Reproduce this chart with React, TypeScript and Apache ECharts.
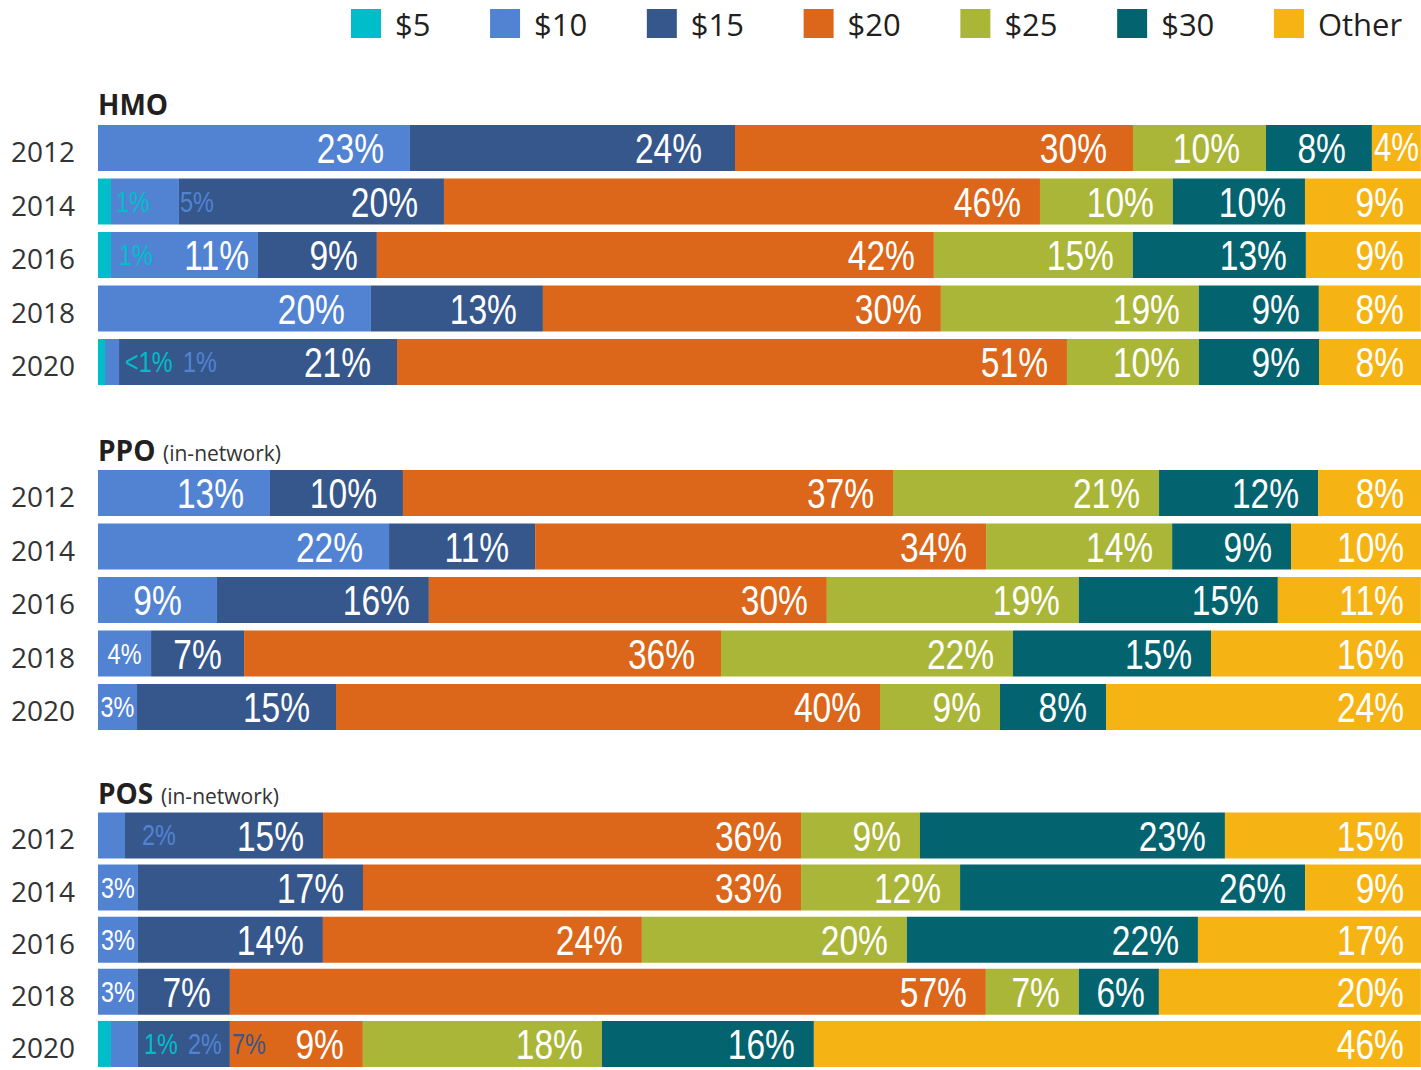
import React, { useEffect, useRef } from "react";
import * as echarts from "echarts";

const years = ["2012", "2014", "2016", "2018", "2020"];
const seriesNames = ["$5", "$10", "$15", "$20", "$25", "$30", "Other"];
const seriesColors = ["#00BEC9", "#5283D3", "#36578B", "#DC6619", "#A9B637", "#03646F", "#F5B413"];
const groupTitles = ["HMO", "PPO", "POS"];
const groupSubtitles = ["", "(in-network)", "(in-network)"];

// Shares (%) per series (rows: $5 ... Other), columns follow years
const hmoValues = [
  [0, 0.98, 0.98, 0, 0.53],
  [23.58, 5.14, 11.11, 20.63, 1.06],
  [24.57, 20.03, 8.99, 13.0, 21.01],
  [30.08, 45.05, 42.1, 30.08, 50.64],
  [10.05, 10.05, 15.04, 19.5, 9.98],
  [8.01, 9.98, 13.08, 9.07, 9.07],
  [3.7, 8.77, 8.69, 7.71, 7.71],
];
const hmoLabels = [
  ["", "1%", "1%", "", "<1%"],
  ["23%", "5%", "11%", "20%", "1%"],
  ["24%", "20%", "9%", "13%", "21%"],
  ["30%", "46%", "42%", "30%", "51%"],
  ["10%", "10%", "15%", "19%", "10%"],
  ["8%", "10%", "13%", "9%", "9%"],
  ["4%", "9%", "9%", "8%", "8%"],
];

const ppoValues = [
  [0, 0, 0, 0, 0],
  [13.0, 22.0, 8.99, 4.01, 2.95],
  [10.05, 11.04, 16.02, 7.03, 15.04],
  [37.04, 34.09, 30.08, 36.05, 41.12],
  [20.11, 14.06, 19.05, 22.07, 9.07],
  [12.02, 8.99, 15.04, 14.97, 8.01],
  [7.79, 9.83, 10.81, 15.87, 23.81],
];
const ppoLabels = [
  ["", "", "", "", ""],
  ["13%", "22%", "9%", "4%", "3%"],
  ["10%", "11%", "16%", "7%", "15%"],
  ["37%", "34%", "30%", "36%", "40%"],
  ["21%", "14%", "19%", "22%", "9%"],
  ["12%", "9%", "15%", "15%", "8%"],
  ["8%", "10%", "11%", "16%", "24%"],
];

const posValues = [
  [0, 0, 0, 0, 0.98],
  [2.04, 3.02, 3.02, 3.02, 2.04],
  [14.97, 17.01, 13.98, 6.95, 6.95],
  [36.13, 33.11, 24.11, 57.14, 10.05],
  [8.99, 12.02, 20.03, 7.03, 18.07],
  [23.05, 26.08, 22.0, 6.05, 16.02],
  [14.81, 8.77, 16.86, 19.8, 45.88],
];
const posLabels = [
  ["", "", "", "", "1%"],
  ["2%", "3%", "3%", "3%", "2%"],
  ["15%", "17%", "14%", "7%", "7%"],
  ["36%", "33%", "24%", "57%", "9%"],
  ["9%", "12%", "20%", "7%", "18%"],
  ["23%", "26%", "22%", "6%", "16%"],
  ["15%", "9%", "17%", "20%", "46%"],
];

const groupValues = [hmoValues, ppoValues, posValues];
const groupLabels = [hmoLabels, ppoLabels, posLabels];

// ---- layout / styling (not data) ----
const LABEL_FONT = "'Liberation Sans', Arial, sans-serif";
const SANS = "'Open Sans', 'Noto Sans', sans-serif";
const NARROW_SCALE = 0.78;
const gridTops = [121.25, 466.25, 809.4];
const gridHeights = [267.5, 267.5, 266.25];
const titleY = [105, 451, 794];
const GRID_LEFT = 98;

type LabelMode =
  | { mode: "right"; d: number }
  | { mode: "left"; d: number; size: number }
  | { mode: "mid"; size: number }
  | { mode: "out"; dx: number };

const labelLayout: Record<string, LabelMode> = {
  "0-0-1": { mode: "right", d: 26 },
  "0-0-2": { mode: "right", d: 33 },
  "0-0-3": { mode: "right", d: 26 },
  "0-0-4": { mode: "right", d: 26 },
  "0-0-5": { mode: "right", d: 26 },
  "0-0-6": { mode: "left", d: 2, size: 40 },
  "0-1-0": { mode: "out", dx: 5 },
  "0-1-1": { mode: "out", dx: 1 },
  "0-1-2": { mode: "right", d: 26 },
  "0-2-0": { mode: "out", dx: 8 },
  "0-2-1": { mode: "right", d: 9 },
  "0-3-1": { mode: "right", d: 26 },
  "0-3-2": { mode: "right", d: 26 },
  "0-4-0": { mode: "out", dx: 20 },
  "0-4-1": { mode: "out", dx: 64 },
  "0-4-2": { mode: "right", d: 26 },
  "1-0-1": { mode: "right", d: 26 },
  "1-0-2": { mode: "right", d: 26 },
  "1-1-1": { mode: "right", d: 26 },
  "1-1-2": { mode: "right", d: 26 },
  "1-2-1": { mode: "mid", size: 43 },
  "1-3-1": { mode: "mid", size: 30 },
  "1-3-2": { mode: "mid", size: 43 },
  "1-3-3": { mode: "right", d: 26 },
  "1-4-1": { mode: "mid", size: 30 },
  "1-4-2": { mode: "right", d: 26 },
  "2-0-1": { mode: "out", dx: 17 },
  "2-1-1": { mode: "mid", size: 30 },
  "2-2-1": { mode: "mid", size: 30 },
  "2-3-1": { mode: "mid", size: 30 },
  "2-3-5": { mode: "right", d: 14 },
  "2-4-0": { mode: "out", dx: 33 },
  "2-4-1": { mode: "out", dx: 50 },
  "2-4-2": { mode: "out", dx: 2 },
};

function buildLabelItems(g: number) {
  const items: any[] = [];
  const vals = groupValues[g];
  const labs = groupLabels[g];
  for (let r = 0; r < years.length; r++) {
    let acc = 0;
    for (let s = 0; s < seriesNames.length; s++) {
      const v = vals[s][r];
      const start = acc;
      acc += v;
      const text = labs[s][r];
      if (!text) continue;
      items.push({ value: [start, acc, r, s], text, key: `${g}-${r}-${s}` });
    }
  }
  return items;
}

function buildOption() {
  const grids: any[] = [];
  const xAxes: any[] = [];
  const yAxes: any[] = [];
  const series: any[] = [];
  const graphics: any[] = [];

  for (let g = 0; g < 3; g++) {
    grids.push({ left: GRID_LEFT, width: 1323, top: gridTops[g], height: gridHeights[g] });
    xAxes.push({ type: "value", gridIndex: g, min: 0, max: 100, show: false });
    yAxes.push({
      type: "category",
      gridIndex: g,
      data: years,
      inverse: true,
      axisLine: { show: false },
      axisTick: { show: false },
      splitLine: { show: false },
      axisLabel: {
        color: "#333333",
        fontFamily: SANS,
        fontSize: 28,
        margin: 23,
        verticalAlign: "top",
        lineHeight: 6,
      },
    });
    for (let s = 0; s < seriesNames.length; s++) {
      series.push({
        type: "bar",
        name: seriesNames[s],
        xAxisIndex: g,
        yAxisIndex: g,
        stack: "g" + g,
        barWidth: 46,
        itemStyle: { color: seriesColors[s] },
        emphasis: { disabled: true },
        label: { show: false },
        data: groupValues[g][s],
      });
    }

    const items = buildLabelItems(g);
    series.push({
      type: "custom",
      name: "labels" + g,
      xAxisIndex: g,
      yAxisIndex: g,
      z: 10,
      silent: true,
      encode: { x: [0, 1], y: 2 },
      data: items.map((it) => it.value),
      renderItem: (params: any, api: any) => {
        const it = items[params.dataIndex];
        const start = api.value(0);
        const end = api.value(1);
        const r = api.value(2);
        const s = api.value(3);
        const p0 = api.coord([start, r]);
        const p1 = api.coord([end, r]);
        const y = p1[1];
        const o = labelLayout[it.key];
        let x = p1[0] - (s === 6 ? 17 : 19);
        let align = "right";
        let size = 43;
        let fill = "#ffffff";
        if (o) {
          if (o.mode === "right") {
            x = p1[0] - o.d;
          } else if (o.mode === "left") {
            x = p0[0] + o.d;
            align = "left";
            size = o.size;
          } else if (o.mode === "mid") {
            x = (p0[0] + p1[0]) / 2;
            align = "center";
            size = o.size;
          } else {
            x = p1[0] + o.dx;
            align = "left";
            size = 30;
            fill = seriesColors[s];
          }
        }
        return {
          type: "text",
          x,
          y,
          scaleX: NARROW_SCALE,
          style: {
            text: it.text,
            x: 0,
            y: 0,
            fill,
            font: `${size}px ${LABEL_FONT}`,
            align,
            verticalAlign: "middle",
            textAlign: align,
            textVerticalAlign: "middle",
          },
        };
      },
    });

    graphics.push({
      type: "text",
      left: GRID_LEFT,
      top: titleY[g] - 15,
      style: {
        text: groupTitles[g],
        font: `bold 28px ${SANS}`,
        fill: "#231F20",
      },
    });
    if (groupSubtitles[g]) {
      graphics.push({
        type: "text",
        left: g === 1 ? 163 : 161,
        top: titleY[g] - 9,
        style: {
          text: groupSubtitles[g],
          font: `21px ${SANS}`,
          fill: "#333333",
        },
      });
    }
  }

  return {
    animation: false,
    backgroundColor: "#ffffff",
    legend: {
      left: 351,
      top: 8,
      padding: 0,
      itemWidth: 30,
      itemHeight: 29,
      itemGap: 59.6,
      icon: "rect",
      data: seriesNames,
      selectedMode: false,
      textStyle: {
        fontFamily: SANS,
        fontSize: 31,
        color: "#231F20",
        padding: [0, 0, 0, 9],
      },
    },
    grid: grids,
    xAxis: xAxes,
    yAxis: yAxes,
    series,
    graphic: graphics,
  };
}

export default function App() {
  const ref = useRef<HTMLDivElement>(null);
  useEffect(() => {
    document.body.style.margin = "0";
    if (!ref.current) return;
    const chart = echarts.init(ref.current, undefined, { renderer: "svg" });
    chart.setOption(buildOption() as any);
    return () => chart.dispose();
  }, []);
  return (
    <div
      ref={ref}
      style={{ position: "absolute", left: 0, top: 0, width: 1421, height: 1070 }}
    />
  );
}
